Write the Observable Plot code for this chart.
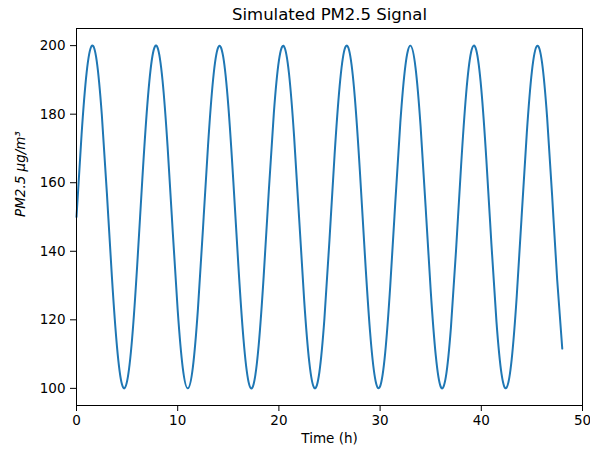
<!DOCTYPE html>
<html>
<head>
<meta charset="utf-8">
<script src="https://cdn.jsdelivr.net/npm/d3@7"></script>
<script src="https://cdn.jsdelivr.net/npm/@observablehq/plot@0.6"></script>
<style>
  html, body { margin: 0; padding: 0; background: #fff; }
  #chart svg { display: block; }
</style>
</head>
<body>
<div id="chart"></div>
<script>
const title = "Simulated PM2.5 Signal";
const xLabel = "Time (h)";
const yLabel = "PM2.5 μg/m³";
const xTicks = [0, 10, 20, 30, 40, 50];
const yTicks = [100, 120, 140, 160, 180, 200];

// Time (h), sampled every 0.5 h
const timeH = [
  0, 0.5, 1, 1.5, 2, 2.5, 3, 3.5, 4, 4.5, 5, 5.5, 6, 6.5, 7, 7.5, 8, 8.5, 9, 9.5,
  10, 10.5, 11, 11.5, 12, 12.5, 13, 13.5, 14, 14.5, 15, 15.5, 16, 16.5, 17, 17.5, 18, 18.5, 19, 19.5,
  20, 20.5, 21, 21.5, 22, 22.5, 23, 23.5, 24, 24.5, 25, 25.5, 26, 26.5, 27, 27.5, 28, 28.5, 29, 29.5,
  30, 30.5, 31, 31.5, 32, 32.5, 33, 33.5, 34, 34.5, 35, 35.5, 36, 36.5, 37, 37.5, 38, 38.5, 39, 39.5,
  40, 40.5, 41, 41.5, 42, 42.5, 43, 43.5, 44, 44.5, 45, 45.5, 46, 46.5, 47, 47.5, 48
];
// PM2.5 values
const pm25 = [
  150.0, 174.0, 192.1, 199.9, 195.5, 179.9, 157.1, 132.5, 112.2, 101.1,
  102.1, 114.7, 136.0, 160.8, 182.8, 196.9, 199.5, 189.9, 170.6, 146.2,
  122.8, 106.0, 100.0, 106.2, 123.2, 146.7, 171.0, 190.2, 199.5, 196.7,
  182.5, 160.3, 135.6, 114.4, 101.9, 101.2, 112.5, 132.9, 157.5, 180.3,
  195.6, 199.8, 191.8, 173.6, 149.6, 125.6, 107.7, 100.1, 104.7, 120.4,
  143.4, 168.0, 188.1, 199.0, 197.8, 185.0, 163.5, 138.8, 116.8, 103.0,
  100.6, 110.3, 129.8, 154.2, 177.6, 194.2, 200.0, 193.6, 176.5, 152.9,
  128.6, 109.6, 100.4, 103.4, 117.8, 140.1, 164.8, 185.9, 198.2, 198.7,
  187.3, 166.7, 142.1, 119.4, 104.2, 100.2, 108.4, 126.8, 150.9, 174.7,
  192.5, 199.9, 195.1, 179.2, 156.2, 131.6, 111.6
];

const data = timeH.map((t, i) => ({t, v: pm25[i]}));
const font = "DejaVu Sans, sans-serif";

const chart = Plot.plot({
  width: 590,
  height: 456,
  marginLeft: 76,
  marginRight: 8,
  marginTop: 28,
  marginBottom: 51,
  style: {fontFamily: font, fontSize: "13px", color: "#000", background: "#fff"},
  x: {domain: [0, 50], ticks: xTicks, tickSize: 6, tickPadding: 4, label: null},
  y: {domain: [95, 205], ticks: yTicks, tickSize: 6, tickPadding: 5, label: null},
  marks: [
    Plot.line(data, {x: "t", y: "v", stroke: "#1f77b4", strokeWidth: 2, curve: "natural"}),
    Plot.frame({stroke: "#000", strokeWidth: 1}),
    Plot.axisX({ticks: xTicks, tickSize: 6, tickPadding: 4, fontSize: 13.5, label: null}),
    Plot.axisY({ticks: yTicks, tickSize: 6, tickPadding: 5, fontSize: 13.5, label: null}),
    Plot.text([title], {frameAnchor: "top", dy: -9, fontSize: 16.5, fill: "#000", text: d => d, lineAnchor: "bottom"}),
    Plot.text([xLabel], {frameAnchor: "bottom", dy: 37, fontSize: 13.5, fill: "#000", text: d => d}),
    Plot.text([yLabel], {frameAnchor: "left", dx: -56, rotate: -90, fontSize: 13.5, fontStyle: "italic", fill: "#000", text: d => d})
  ]
});
document.getElementById("chart").appendChild(chart);
</script>
</body>
</html>
